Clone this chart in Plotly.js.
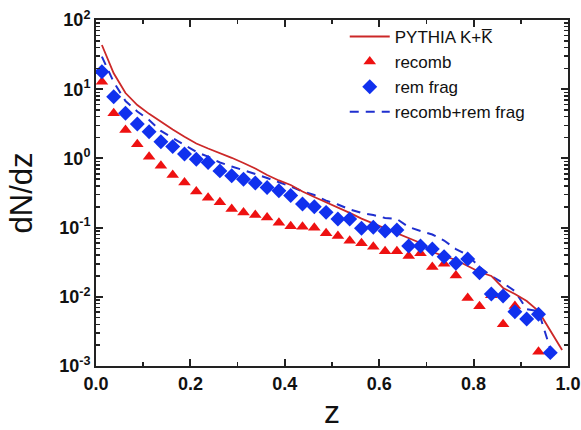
<!DOCTYPE html>
<html>
<head>
<meta charset="utf-8">
<script src="https://cdn.plot.ly/plotly-3.0.1.min.js"></script>
<style>html,body{margin:0;padding:0;background:#fff;}#chart{width:581px;height:430px;}</style>
</head>
<body>
<div id="chart"></div>
<script>
// bin centres in z
var z = [0.0125,0.0375,0.0625,0.0875,0.1125,0.1375,0.1625,0.1875,0.2125,0.2375,
         0.2625,0.2875,0.3125,0.3375,0.3625,0.3875,0.4125,0.4375,0.4625,0.4875,
         0.5125,0.5375,0.5625,0.5875,0.6125,0.6375,0.6625,0.6875,0.7125,0.7375,
         0.7625,0.7875,0.8125,0.8375,0.8625,0.8875,0.9125,0.9375,0.9625,0.9875];

var pythia = [43.5,17.0,8.8,5.9,4.4,3.35,2.62,2.06,1.64,1.39,
              1.20,1.02,0.859,0.715,0.575,0.48,0.413,0.333,0.277,0.234,
              0.195,0.163,0.135,0.115,0.097,0.0835,0.0708,0.0599,0.0444,0.0389,
              0.034,0.0279,0.0228,0.020,0.0134,0.011,0.0087,0.0062,0.0033,0.0017];

var recomb = [12.8,4.49,2.57,1.60,1.06,0.785,0.576,0.449,0.333,0.271,
              0.232,0.186,0.165,0.152,0.140,0.118,0.105,0.103,0.0997,0.0827,
              0.0757,0.0647,0.0593,0.0530,0.0455,0.0455,0.0389,0.0425,0.0270,0.0301,
              0.0203,0.00962,0.0073,0.0105,0.00402,0.00737,null,0.00161,null,null];

var remfrag = [17.9,7.8,4.49,3.14,2.43,1.74,1.48,1.16,0.97,0.87,
               0.66,0.56,0.50,0.44,0.38,0.34,0.29,0.219,0.200,0.166,
               0.133,0.133,0.0977,0.101,0.0893,0.0923,0.0542,0.0542,0.0491,0.038,
               0.0305,0.0352,0.0223,0.011,0.0103,0.0061,0.00478,0.00559,0.00156,null];

var sumcurve = [29.5,12.7,6.74,4.76,3.59,2.49,1.97,1.56,1.24,1.06,
                0.873,0.764,0.68,0.595,0.521,0.456,0.393,0.333,0.296,0.245,
                0.216,0.183,0.163,0.152,0.138,0.133,0.102,0.0893,0.0795,0.065,
                0.049,0.040,0.027,0.020,0.0158,0.0121,0.0066,0.0062,0.00176,null];

var yTickVals = [0.001,0.01,0.1,1,10,100];
var yTickText = ['10<sup>-3</sup>','10<sup>-2</sup>','10<sup>-1</sup>','10<sup>0</sup>','10<sup>1</sup>','10<sup>2</sup>'];
var xTickVals = [0,0.2,0.4,0.6,0.8,1.0];
var xTickText = ['0.0','0.2','0.4','0.6','0.8','1.0'];

var names = ['PYTHIA K+K\u0305','recomb','rem frag','recomb+rem frag'];

var yMinor = [];
for (var e = -3; e < 2; e++) { for (var m = 2; m <= 9; m++) { yMinor.push(m * Math.pow(10, e)); } }

var FONT = 'Liberation Sans, Arial, Helvetica, sans-serif';
var AX = '#222222';

var traces = [
  {x: z, y: sumcurve, name: names[3], type: 'scatter', mode: 'lines', legendrank: 4,
   line: {color: '#1f2fcf', width: 2, dash: '9px,7px'}},
  {x: z, y: pythia, name: names[0], type: 'scatter', mode: 'lines', legendrank: 1,
   line: {color: '#cc2828', width: 1.8}},
  {x: z, y: recomb, name: names[1], type: 'scatter', mode: 'markers', legendrank: 2,
   marker: {symbol: 'triangle-up', size: 11, color: '#ee1111', line: {width: 0}}},
  {x: z, y: remfrag, name: names[2], type: 'scatter', mode: 'markers', legendrank: 3,
   marker: {symbol: 'diamond', size: 11.5, color: '#1030ee', line: {width: 0}}}
];

var layout = {
  width: 581, height: 430,
  margin: {l: 96, r: 13, t: 20, b: 64},
  paper_bgcolor: '#ffffff', plot_bgcolor: '#ffffff',
  font: {family: FONT, color: '#111'},
  showlegend: true,
  legend: {x: 0.527, y: 1.003, xanchor: 'left', yanchor: 'top', bgcolor: 'rgba(0,0,0,0)',
           font: {family: FONT, size: 17, color: '#111'}, itemwidth: 40, tracegroupgap: 0},
  xaxis: {
    range: [0, 1], tickmode: 'array', tickvals: xTickVals, ticktext: xTickText,
    ticks: 'inside', ticklen: 7, tickwidth: 2, tickcolor: AX,
    showline: true, linewidth: 2, linecolor: AX, mirror: 'allticks',
    showgrid: false, zeroline: false,
    minor: {tickmode: 'linear', tick0: 0, dtick: 0.1, ticks: 'inside', ticklen: 4, tickwidth: 1.5, tickcolor: AX, showgrid: false},
    tickfont: {family: FONT, size: 18, weight: 'bold', color: '#111'},
    title: {text: 'z', font: {family: FONT, size: 32, color: '#111'}, standoff: 30}
  },
  yaxis: {
    type: 'log', range: [-3, 2], tickmode: 'array', tickvals: yTickVals, ticktext: yTickText,
    ticks: 'inside', ticklen: 7, tickwidth: 2, tickcolor: AX,
    showline: true, linewidth: 2, linecolor: AX, mirror: 'allticks',
    showgrid: false, zeroline: false,
    minor: {tickmode: 'array', tickvals: yMinor, ticks: 'inside', ticklen: 4, tickwidth: 1.5, tickcolor: AX, showgrid: false},
    tickfont: {family: FONT, size: 18, weight: 'bold', color: '#111'},
    title: {text: 'dN/dz', font: {family: FONT, size: 31, color: '#111'}, standoff: 17}
  }
};

Plotly.newPlot('chart', traces, layout, {displayModeBar: false, staticPlot: true});
</script>
</body>
</html>
